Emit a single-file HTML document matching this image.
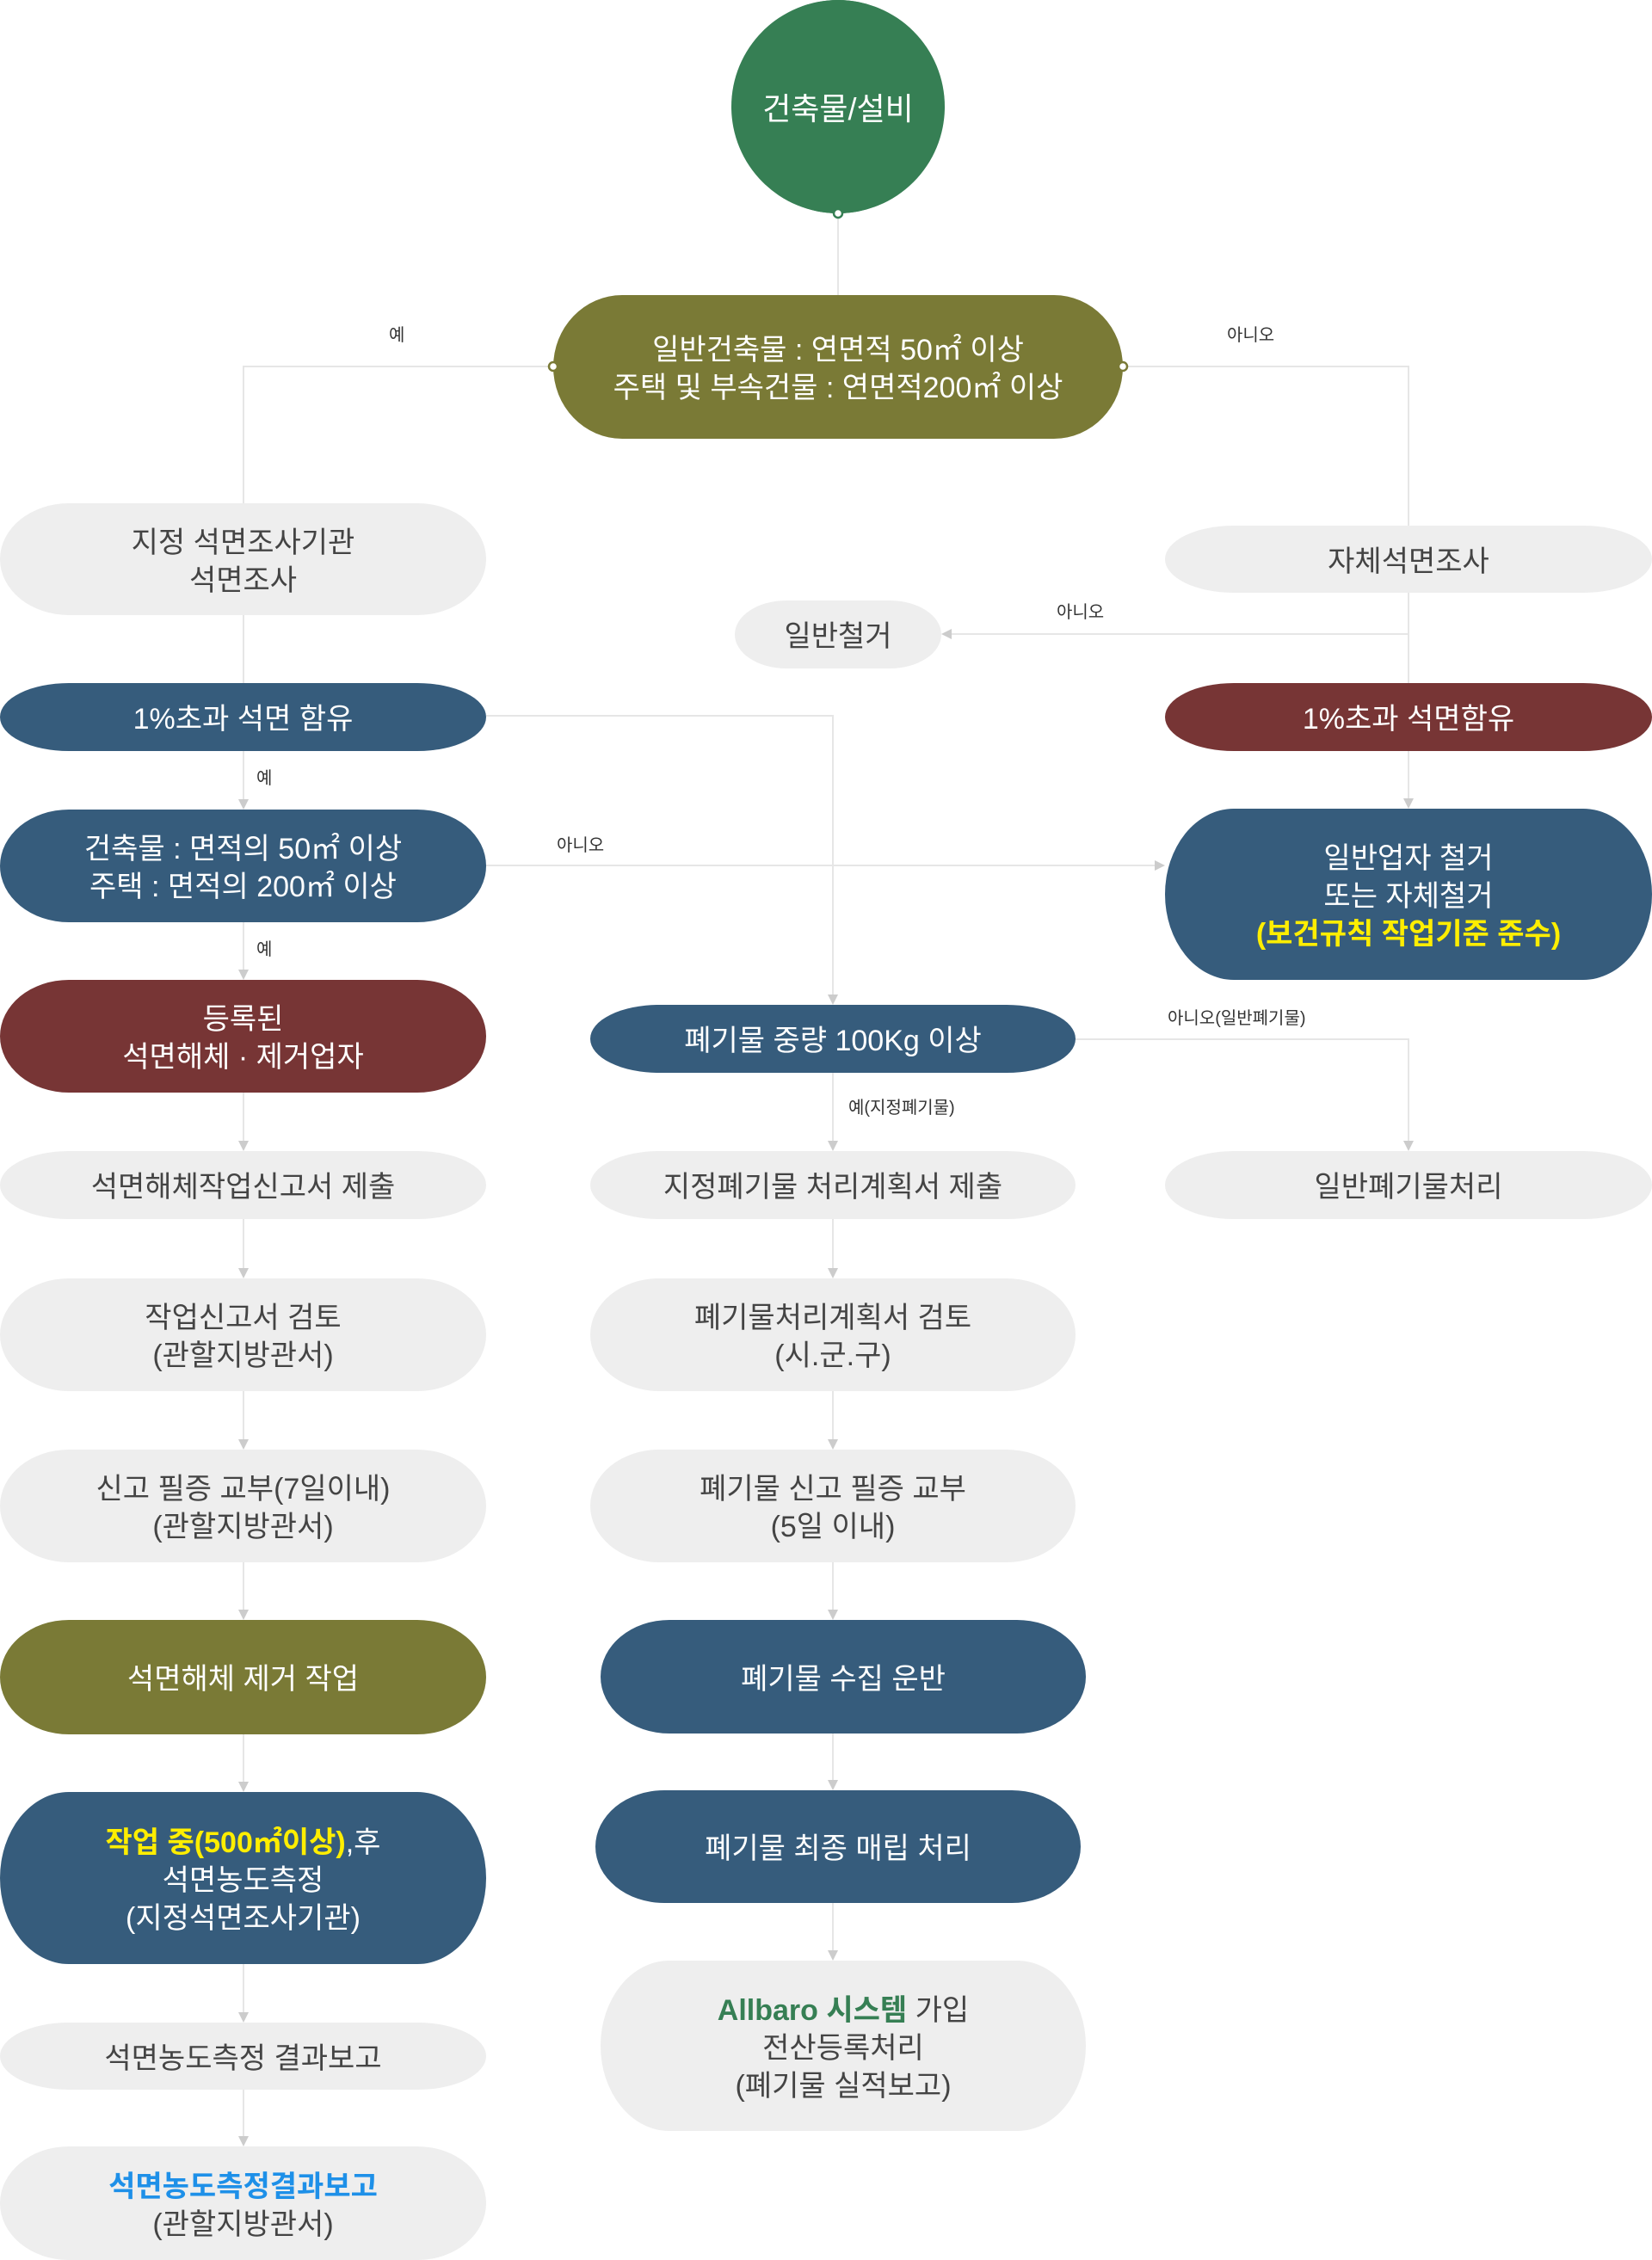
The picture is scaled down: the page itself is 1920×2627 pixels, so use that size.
<!DOCTYPE html>
<html><head><meta charset="utf-8">
<style>
html,body{margin:0;padding:0;background:#fff;}
body{width:1920px;height:2627px;position:relative;overflow:hidden;font-family:"Liberation Sans","Noto Sans CJK KR",sans-serif;}
.n{position:absolute;display:flex;align-items:center;justify-content:center;text-align:center;font-size:34px;line-height:44px;border-radius:80px/50%;box-sizing:border-box;padding-top:5px;}
.g{background:#eeeeee;color:#444;}
.b{background:#365c7c;color:#fff;}
.r{background:#773535;color:#fff;}
.o{background:#7a7a36;color:#fff;}
.l{position:absolute;font-size:20px;color:#333;line-height:24px;white-space:nowrap;}
svg{position:absolute;left:0;top:0;}
</style></head><body>
<svg width="1920" height="2627" viewBox="0 0 1920 2627">
<g stroke="#e6e6e6" stroke-width="2" fill="none">
<path d="M974 248V343"/>
<path d="M643 426H283V585"/>
<path d="M1305 426H1637V611"/>
<path d="M1637 689V930"/>
<path d="M1637 737H1104"/>
<path d="M283 715V794"/>
<path d="M565 832H968V1158"/>
<path d="M283 873V931"/>
<path d="M565 1006H1344"/>
<path d="M283 1072V1129"/>
<path d="M283 1270V1328"/><path d="M283 1417V1476"/><path d="M283 1617V1675"/><path d="M283 1816V1873"/><path d="M283 2016V2073"/><path d="M283 2283V2341"/><path d="M283 2429V2485"/>
<path d="M968 1247V1328"/><path d="M968 1417V1476"/><path d="M968 1616V1675"/><path d="M968 1816V1873"/><path d="M968 2015V2071"/><path d="M968 2212V2269"/>
<path d="M1250 1208H1637V1328"/>
</g>
<g fill="#cccccc">
<path d="M1631 928h12l-6 12z"/>
<path d="M1106 731v12l-12-6z"/>
<path d="M962 1156h12l-6 12z"/>
<path d="M277 929h12l-6 12z"/>
<path d="M1342 1000v12l12-6z"/>
<path d="M277 1127h12l-6 12z"/>
<path d="M277 1326h12l-6 12z"/><path d="M277 1474h12l-6 12z"/><path d="M277 1673h12l-6 12z"/><path d="M277 1871h12l-6 12z"/><path d="M277 2071h12l-6 12z"/><path d="M277 2339h12l-6 12z"/><path d="M277 2483h12l-6 12z"/>
<path d="M962 1326h12l-6 12z"/><path d="M962 1474h12l-6 12z"/><path d="M962 1673h12l-6 12z"/><path d="M962 1871h12l-6 12z"/><path d="M962 2069h12l-6 12z"/><path d="M962 2267h12l-6 12z"/>
<path d="M1631 1326h12l-6 12z"/>
</g>
<circle cx="974" cy="124" r="124" fill="#367f54"/>
</svg>
<div class="n" style="left:851px;top:0;width:246px;height:248px;border-radius:50%;background:#367f54;color:#fff;font-size:36px;">건축물/설비</div>
<div class="n o" style="left:643px;top:343px;width:662px;height:167px;"><span>일반건축물 : 연면적 50㎡ 이상<br>주택 및 부속건물 : 연면적200㎡ 이상</span></div>
<svg width="1920" height="600"><g fill="#fff" stroke-width="2.5"><circle cx="974" cy="248" r="5" stroke="#367f54"/><circle cx="643" cy="426" r="5" stroke="#7a7a36"/><circle cx="1305" cy="426" r="5" stroke="#7a7a36"/></g></svg>

<div class="l" style="left:452px;top:378px;">예</div>
<div class="l" style="left:1426px;top:378px;">아니오</div>
<div class="l" style="left:1228px;top:700px;">아니오</div>
<div class="l" style="left:298px;top:893px;">예</div>
<div class="l" style="left:647px;top:971px;">아니오</div>
<div class="l" style="left:298px;top:1092px;">예</div>
<div class="l" style="left:1357px;top:1172px;">아니오(일반폐기물)</div>
<div class="l" style="left:986px;top:1276px;">예(지정폐기물)</div>

<div class="n g" style="left:0;top:585px;width:565px;height:130px;"><span>지정 석면조사기관<br>석면조사</span></div>
<div class="n g" style="left:1354px;top:611px;width:566px;height:78px;">자체석면조사</div>
<div class="n g" style="left:854px;top:698px;width:240px;height:79px;border-radius:60px/50%;">일반철거</div>
<div class="n b" style="left:0;top:794px;width:565px;height:79px;">1%초과 석면 함유</div>
<div class="n r" style="left:1354px;top:794px;width:566px;height:79px;">1%초과 석면함유</div>
<div class="n b" style="left:0;top:941px;width:565px;height:131px;"><span>건축물 : 면적의 50㎡ 이상<br>주택 : 면적의 200㎡ 이상</span></div>
<div class="n b" style="left:1354px;top:940px;width:566px;height:199px;"><span>일반업자 철거<br>또는 자체철거<br><b style="color:#ffee00;">(보건규칙 작업기준 준수)</b></span></div>
<div class="n r" style="left:0;top:1139px;width:565px;height:131px;"><span>등록된<br>석면해체 · 제거업자</span></div>
<div class="n b" style="left:686px;top:1168px;width:564px;height:79px;">폐기물 중량 100Kg 이상</div>
<div class="n g" style="left:0;top:1338px;width:565px;height:79px;">석면해체작업신고서 제출</div>
<div class="n g" style="left:686px;top:1338px;width:564px;height:79px;">지정폐기물 처리계획서 제출</div>
<div class="n g" style="left:1354px;top:1338px;width:566px;height:79px;">일반폐기물처리</div>
<div class="n g" style="left:0;top:1486px;width:565px;height:131px;"><span>작업신고서 검토<br>(관할지방관서)</span></div>
<div class="n g" style="left:686px;top:1486px;width:564px;height:131px;"><span>폐기물처리계획서 검토<br>(시.군.구)</span></div>
<div class="n g" style="left:0;top:1685px;width:565px;height:131px;"><span>신고 필증 교부(7일이내)<br>(관할지방관서)</span></div>
<div class="n g" style="left:686px;top:1685px;width:564px;height:131px;"><span>폐기물 신고 필증 교부<br>(5일 이내)</span></div>
<div class="n o" style="left:0;top:1883px;width:565px;height:133px;">석면해체 제거 작업</div>
<div class="n b" style="left:698px;top:1883px;width:564px;height:132px;">폐기물 수집 운반</div>
<div class="n b" style="left:0;top:2083px;width:565px;height:200px;"><span><b style="color:#ffee00;">작업 중(500㎡이상)</b>,후<br>석면농도측정<br>(지정석면조사기관)</span></div>
<div class="n b" style="left:692px;top:2081px;width:564px;height:131px;">폐기물 최종 매립 처리</div>
<div class="n g" style="left:0;top:2351px;width:565px;height:78px;">석면농도측정 결과보고</div>
<div class="n g" style="left:698px;top:2279px;width:564px;height:198px;"><span><b style="color:#367f54;">Allbaro 시스템</b> 가입<br>전산등록처리<br>(폐기물 실적보고)</span></div>
<div class="n g" style="left:0;top:2495px;width:565px;height:132px;"><span><b style="color:#1e90e8;">석면농도측정결과보고</b><br>(관할지방관서)</span></div>
</body></html>
